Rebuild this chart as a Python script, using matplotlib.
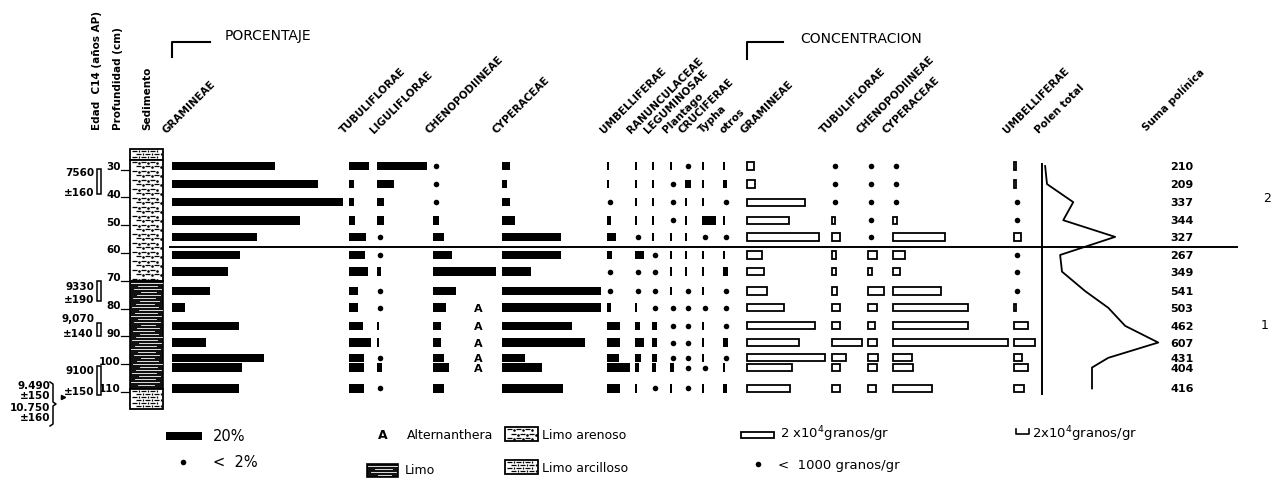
import numpy as np
import matplotlib
matplotlib.use('Agg')
import matplotlib.pyplot as plt
from matplotlib.patches import Rectangle

W, H = 1272, 481
Y30, PX_CM = 167, 2.78      # pixel row of 30 cm, pixels per cm
PX_PCT = 1.8                # pixels per 1 %
PX_CONC = 1.67              # pixels per 1000 granos/gr
PX_TOTAL = 0.625            # pixels per 1000 granos/gr (polen total)

DOT = 0.5   # present, drawn as a dot
TH = 1.2    # very low, drawn as a thin tick

depths = [30, 36.5, 43, 49.5, 55.5, 62, 68, 75, 81, 87.5, 93.5, 99, 102.5, 110]
zone_boundary = 59.1
depth_ticks = [30, 40, 50, 60, 70, 80, 90, 100, 110]
depth_tick_labels = ['30', '40', '50', '60', '70', '80', '90', '100', '110']

# porcentaje (%)
gramineae_pct = [57, 81, 95, 71, 47, 38, 31, 21, 7, 37, 19, 51, 39, 37]
tubuliflorae_pct = [11, 3, 3, 3.5, 9.5, 9, 10.5, 5, 5, 8, 12, 8.5, 8.5, 8.5]
liguliflorae_pct = [28, 9.5, 4, 4, DOT, DOT, 2.2, DOT, DOT, TH, TH, DOT, 2.8, DOT]
chenopodiineae_pct = [DOT, DOT, DOT, 3.5, 6, 10.5, 35, 13, 7, 4.5, 4.5, 6, 9, 6]
cyperaceae_pct = [4.5, 3, 4.5, 7, 33, 33, 16, 55, 55, 39, 46, 13, 22, 34]
umbelliferae_pct = [TH, TH, DOT, 2.2, 5, 2.8, DOT, DOT, 2.2, 7.2, 7.2, 6.7, 12.8, 7.2]
ranunculaceae_pct = [TH, TH, TH, TH, DOT, 5, DOT, DOT, TH, 2.8, 5, 3.3, 2.2, TH]
leguminosae_pct = [TH, TH, TH, TH, TH, DOT, DOT, DOT, DOT, 2.8, 2.8, 2.8, 2.2, DOT]
plantago_pct = [TH, DOT, DOT, DOT, TH, TH, TH, TH, DOT, DOT, DOT, DOT, 2.2, TH]
cruciferae_pct = [DOT, 3.3, TH, TH, TH, TH, TH, DOT, DOT, DOT, DOT, DOT, DOT, DOT]
typha_pct = [TH, TH, TH, 7.8, DOT, TH, TH, TH, DOT, TH, TH, TH, DOT, TH]
otros_pct = [TH, 2.2, DOT, TH, DOT, TH, 2.8, DOT, DOT, DOT, 2.8, DOT, TH, 2.2]
alternanthera = [0, 0, 0, 0, 0, 0, 0, 0, 1, 1, 1, 1, 1, 0]

# concentracion (1000 granos/gr)
gramineae_conc = [4.2, 4.8, 35, 25, 43, 9, 10, 12, 22, 41, 31, 47, 27, 26]
tubuliflorae_conc = [DOT, DOT, DOT, 1.8, 4.8, 2.4, 2.4, 3, 4.8, 4.8, 18, 8.4, 4.8, 4.8]
chenopodiineae_conc = [DOT, DOT, DOT, DOT, DOT, 5.4, 2.4, 9.6, 5.4, 4.2, 5.4, 6, 5.4, 4.8]
cyperaceae_conc = [DOT, DOT, DOT, 2.1, 31, 7.2, 4.2, 29, 45, 45, 69, 11.4, 12, 23.4]
umbelliferae_conc = [TH, TH, DOT, DOT, 4.2, DOT, DOT, DOT, TH, 8.4, 12.6, 4.8, 8.4, 6]
polen_total = [5, 8, 50, 34, 117, 29, 32, 69, 106, 133, 186, 106, 80, 80]
suma_polinica = [210, 209, 337, 344, 327, 267, 349, 541, 503, 462, 607, 431, 404, 416]

# dates C14
c14_age = ['7560', '9330', '9,070', '9100']
c14_err = ['±160', '±190', '±140', '±150']
c14_top = [31, 71.5, 86.5, 102]
c14_bottom = [40, 78.5, 91, 112.5]
c14_age_depth = [32.3, 73, 84.5, 103.5]
c14_err_depth = [39.3, 78, 90, 111]

# layout: (label, values, baseline x, label x)
pct_columns = [
    ('GRAMINEAE', gramineae_pct, 172, 168),
    ('TUBULIFLORAE', tubuliflorae_pct, 349, 345),
    ('LIGULIFLORAE', liguliflorae_pct, 377, 375),
    ('CHENOPODIINEAE', chenopodiineae_pct, 433, 431),
    ('CYPERACEAE', cyperaceae_pct, 502, 498),
    ('UMBELLIFERAE', umbelliferae_pct, 607, 605),
    ('RANUNCULACEAE', ranunculaceae_pct, 635, 632),
    ('LEGUMINOSAE', leguminosae_pct, 652, 649),
    ('Plantago', plantago_pct, 670, 668),
    ('CRUCIFERAE', cruciferae_pct, 685, 684),
    ('Typha', typha_pct, 702, 704),
    ('otros', otros_pct, 723, 725),
]
conc_columns = [
    ('GRAMINEAE', gramineae_conc, 747, 746),
    ('TUBULIFLORAE', tubuliflorae_conc, 832, 825),
    ('CHENOPODIINEAE', chenopodiineae_conc, 868, 862),
    ('CYPERACEAE', cyperaceae_conc, 893, 888),
    ('UMBELLIFERAE', umbelliferae_conc, 1014, 1008),
]
TOTAL_X = 1042
SUMA_X = 1182

fig = plt.figure(figsize=(W / 100, H / 100), dpi=100)
ax = fig.add_axes([0, 0, 1, 1])
ax.set_xlim(0, W)
ax.set_ylim(30 + (H - Y30) / PX_CM, 30 - Y30 / PX_CM)
ax.axis('off')
lay = fig.add_axes([0, 0, 1, 1], facecolor='none')
lay.set_xlim(0, W)
lay.set_ylim(H, 0)
lay.axis('off')

dep = np.array(depths)


def draw_column(x0, values, px, hollow=False):
    v = np.array(values, dtype=float)
    bar = v >= 1
    dot = (v > 0) & (v < 1)
    if hollow:
        ax.barh(dep[bar], v[bar] * px, left=x0, height=2.6, facecolor='white',
                edgecolor='black', lw=1.3, zorder=3)
    else:
        ax.barh(dep[bar], v[bar] * px, left=x0, height=3.1, color='black', zorder=3)
    ax.plot(np.full(dot.sum(), x0 + 2.5), dep[dot], 'o', color='black', ms=4,
            mec='none', zorder=3)


for name, vals, x0, lx in pct_columns:
    draw_column(x0, vals, PX_PCT)
    lay.text(lx, 135, name, rotation=45, rotation_mode='anchor', ha='left',
             va='bottom', fontsize=7.5, fontweight='bold')
for d, a in zip(depths, alternanthera):
    if a:
        ax.text(478, d, 'A', ha='center', va='center', fontsize=8, fontweight='bold')

for name, vals, x0, lx in conc_columns:
    draw_column(x0, vals, PX_CONC, hollow=True)
    lay.text(lx, 135, name, rotation=45, rotation_mode='anchor', ha='left',
             va='bottom', fontsize=7.5, fontweight='bold')

# polen total curve
ax.plot([TOTAL_X, TOTAL_X], [29.3, 112], color='black', lw=1.4)
ax.plot(TOTAL_X + np.array(polen_total) * PX_TOTAL, dep, color='black', lw=1.3)
lay.text(1040, 135, 'Polen total', rotation=45, rotation_mode='anchor', ha='left',
         va='bottom', fontsize=7.5, fontweight='bold')

for d, s in zip(depths, suma_polinica):
    ax.text(SUMA_X, d, str(s), ha='center', va='center', fontsize=8, fontweight='bold')
lay.text(1148, 133, 'Suma polínica', rotation=45, rotation_mode='anchor', ha='left',
         va='bottom', fontsize=7.5, fontweight='bold')

# zone line and zone numbers
ax.plot([170, 1237], [zone_boundary, zone_boundary], color='black', lw=1.4, zorder=4)
ax.text(1267, 41.5, '2', ha='center', va='center', fontsize=9)
ax.text(1265, 87, '1', ha='center', va='center', fontsize=9)

# depth scale
for d, lbl in zip(depth_ticks, depth_tick_labels):
    ax.text(121, d, lbl, ha='right', va='center', fontsize=7.5, fontweight='bold')
    ax.plot([121, 130], [d + 1.3, d + 1.3], color='black', lw=0.9)


def texture(axis, x0, x1, y0, y1, kind, py):
    # py = data units per pixel along y
    if kind == 'limo':
        axis.add_patch(Rectangle((x0, y0), x1 - x0, y1 - y0, facecolor='#111111',
                                 edgecolor='black', lw=1.2, zorder=2))
        ys = np.arange(y0 + 2 * py, y1 - py, 3 * py)
        for i, yy in enumerate(ys):
            off = (i * 7) % 11
            axis.plot([x0 + 1 + off, x1 - 1 - (i * 5) % 9], [yy, yy], color='white',
                      lw=0.6, zorder=3)
        return
    axis.add_patch(Rectangle((x0, y0), x1 - x0, y1 - y0, facecolor='white',
                             edgecolor='black', lw=1.3, zorder=2))
    step = 4.5 if kind == 'arenoso' else 3
    ys = np.arange(y0 + 2 * py, y1 - py, step * py)
    for i, yy in enumerate(ys):
        off = (i % 2) * 4
        xs = np.arange(x0 + 2 + off, x1 - 5, 9)
        axis.hlines(np.full(len(xs), yy), xs, xs + 5, color='black', lw=0.9, zorder=3)
        if kind == 'arenoso':
            axis.plot(xs + 7, np.full(len(xs), yy + py), 's', color='black', ms=0.8,
                      zorder=3)
        else:
            axis.vlines(xs + 6.5, yy - py, yy + py, color='black', lw=0.9, zorder=3)


# sediment column
SED_X0, SED_X1 = 130, 163
texture(ax, SED_X0, SED_X1, 24, 27.8, 'arcilloso', 1 / PX_CM)
texture(ax, SED_X0, SED_X1, 27.8, 71.4, 'arenoso', 1 / PX_CM)
texture(ax, SED_X0, SED_X1, 71.4, 110.2, 'limo', 1 / PX_CM)
texture(ax, SED_X0, SED_X1, 110.2, 117.4, 'arcilloso', 1 / PX_CM)

# C14 dates
for age, err, t, b, ad, ed in zip(c14_age, c14_err, c14_top, c14_bottom,
                                  c14_age_depth, c14_err_depth):
    ax.add_patch(Rectangle((97, t), 3.5, b - t, facecolor='white', edgecolor='black',
                           lw=1.1, zorder=3))
    ax.text(94, ad, age, ha='right', va='center', fontsize=7.5, fontweight='bold')
    ax.text(94, ed, err, ha='right', va='center', fontsize=7.5, fontweight='bold')
for yy, s in zip([386, 396, 408, 418], ['9.490', '±150', '10.750', '±160']):
    lay.text(50, yy, s, ha='right', va='center', fontsize=7.5, fontweight='bold')
lay.plot([50, 53, 53, 56, 53, 53, 50], [383, 385, 403, 405, 407, 425, 427],
         color='black', lw=1.1)
lay.plot([63], [398], '>', color='black', ms=3)

# column headers
lay.text(97, 130, 'Edad  C14 (años AP)', rotation=90, rotation_mode='anchor',
         ha='left', va='center', fontsize=7.5, fontweight='bold')
lay.text(118, 130, 'Profundidad (cm)', rotation=90, rotation_mode='anchor',
         ha='left', va='center', fontsize=7.5, fontweight='bold')
lay.text(147, 130, 'Sedimento', rotation=90, rotation_mode='anchor',
         ha='left', va='center', fontsize=7.5, fontweight='bold')
lay.plot([172, 172, 210], [58, 43, 43], color='black', lw=1.5)
lay.text(225, 36, 'PORCENTAJE', ha='left', va='center', fontsize=10)
lay.plot([747, 747, 783], [60, 43, 43], color='black', lw=1.5)
lay.text(800, 39, 'CONCENTRACION', ha='left', va='center', fontsize=10)

# legend
lay.barh(437, 20 * PX_PCT, left=166, height=8, color='black')
lay.text(213, 437, '20%', ha='left', va='center', fontsize=10.5)
lay.plot([183], [463], 'o', color='black', ms=4, mec='none')
lay.text(213, 463, '<  2%', ha='left', va='center', fontsize=10.5)
lay.text(383, 436, 'A', ha='center', va='center', fontsize=9, fontweight='bold')
lay.text(407, 436, 'Alternanthera', ha='left', va='center', fontsize=9)
texture(lay, 367, 398, 465, 478, 'limo', 1)
lay.text(405, 471, 'Limo', ha='left', va='center', fontsize=9)
texture(lay, 505, 538, 428, 442, 'arenoso', 1)
lay.text(542, 436, 'Limo arenoso', ha='left', va='center', fontsize=9)
texture(lay, 505, 538, 461, 475, 'arcilloso', 1)
lay.text(542, 469, 'Limo arcilloso', ha='left', va='center', fontsize=9)
lay.barh(436, 20 * PX_CONC, left=741, height=6, facecolor='white', edgecolor='black',
         lw=1.3)
lay.text(780, 434, '2 x10$^4$granos/gr', ha='left', va='center', fontsize=9.5)
lay.plot([758], [465], 'o', color='black', ms=4, mec='none')
lay.text(778, 466, '<  1000 granos/gr', ha='left', va='center', fontsize=9.5)
lay.plot([1016, 1016, 1016 + 20 * PX_TOTAL, 1016 + 20 * PX_TOTAL],
         [430, 435, 435, 430], color='black', lw=1.2)
lay.text(1032, 434, '2x10$^4$granos/gr', ha='left', va='center', fontsize=9.5)

fig.savefig('out.png', dpi=100)
